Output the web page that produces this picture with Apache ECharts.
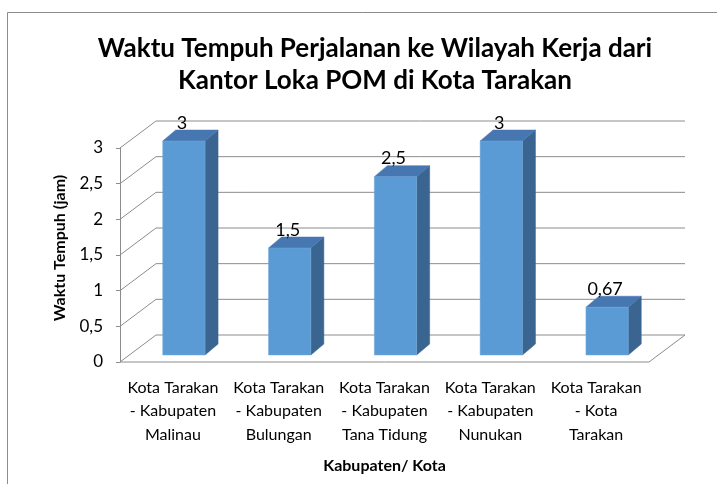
<!DOCTYPE html>
<html>
<head>
<meta charset="utf-8">
<script src="https://cdn.jsdelivr.net/npm/echarts@6/dist/echarts.min.js"></script>
<style>
  html, body { margin: 0; padding: 0; background: #fff; }
  #chart { width: 717px; height: 484px; }
</style>
</head>
<body>
<div id="chart"></div>
<script>
// data
const categories = [
  "Kota Tarakan\n- Kabupaten\nMalinau",
  "Kota Tarakan\n- Kabupaten\nBulungan",
  "Kota Tarakan\n- Kabupaten\nTana Tidung",
  "Kota Tarakan\n- Kabupaten\nNunukan",
  "Kota Tarakan\n- Kota\nTarakan"
];
const waktuTempuh = [3, 1.5, 2.5, 3, 0.67];
const yTicks = [0, 0.5, 1, 1.5, 2, 2.5, 3];

// 3D look (pixels)
const DEPTH_X = 36, DEPTH_Y = -27;   // floor / wall depth
const SHIFT_X = 11, SHIFT_Y = -7;    // bar front face pushed back
const BAR_X = 13, BAR_Y = -11;       // bar depth
const GRID_COLOR = "#8c8c8c";
const FONT = "Lato";

const fmt = (v) => String(v).replace(".", ",");

const chart = echarts.init(document.getElementById("chart"));

const options = {
  backgroundColor: "#fff",
  animation: false,
  textStyle: { fontFamily: FONT },
  title: {
    text: "Waktu Tempuh Perjalanan ke Wilayah Kerja dari\nKantor Loka POM di Kota Tarakan",
    left: 370,
    textAlign: "center",
    top: 28,
    textStyle: {
      fontFamily: FONT,
      fontSize: 26,
      fontWeight: "bold",
      color: "#000",
      lineHeight: 32
    }
  },
  graphic: [
    {
      type: "rect",
      shape: { x: 7.5, y: 12.5, width: 760, height: 520 },
      style: { fill: "none", stroke: "#8c8c8c", lineWidth: 1 },
      silent: true
    }
  ],
  grid: {
    left: 120,
    right: 68,
    top: 148,
    bottom: 122
  },
  xAxis: {
    type: "category",
    data: categories,
    axisLine: { show: false },
    axisTick: { show: false },
    axisLabel: {
      interval: 0,
      margin: 14,
      color: "#000",
      fontSize: 16,
      lineHeight: 23.5
    },
    name: "Kabupaten/ Kota",
    nameLocation: "middle",
    nameGap: 96,
    nameTextStyle: { fontSize: 16, fontWeight: "bold", color: "#000" }
  },
  yAxis: {
    type: "value",
    min: 0,
    max: 3,
    interval: 0.5,
    axisLine: { show: true, lineStyle: { color: GRID_COLOR, width: 1 } },
    axisTick: { show: true, length: 4, lineStyle: { color: GRID_COLOR } },
    splitLine: { show: false },
    axisLabel: {
      margin: 17,
      color: "#000",
      fontSize: 17,
      formatter: (v) => fmt(v)
    },
    name: "Waktu Tempuh (jam)",
    nameLocation: "middle",
    nameGap: 52,
    nameTextStyle: { fontSize: 16, fontWeight: "bold", color: "#000", padding: [0, 0, 0, 14] }
  },
  series: [
    {
      // back wall, side wall and floor
      type: "custom",
      silent: true,
      z: 1,
      data: yTicks.map((v) => [0, v]),
      renderItem: (params, api) => {
        const cs = params.coordSys;
        const x0 = cs.x, x1 = cs.x + cs.width;
        const y = api.coord([0, api.value(1)])[1];
        if (api.value(1) !== 0) {
          return {
            type: "polyline",
            shape: {
              points: [
                [x0, y],
                [x0 + DEPTH_X, y + DEPTH_Y],
                [x1 + DEPTH_X, y + DEPTH_Y]
              ]
            },
            style: { stroke: GRID_COLOR, lineWidth: 1, fill: null }
          };
        }
        return {
          type: "polygon",
          shape: {
            points: [
              [x0, y],
              [x1, y],
              [x1 + DEPTH_X, y + DEPTH_Y],
              [x0 + DEPTH_X, y + DEPTH_Y]
            ]
          },
          style: { stroke: GRID_COLOR, lineWidth: 1, fill: "#fff" }
        };
      }
    },
    {
      type: "custom",
      z: 2,
      data: waktuTempuh.map((v, i) => [i, v]),
      renderItem: (params, api) => {
        const i = api.value(0);
        const v = api.value(1);
        const base = api.coord([i, 0]);
        const top = api.coord([i, v]);
        const w = api.size([1, 0])[0] * 0.4;
        const l = base[0] - w / 2 + SHIFT_X;
        const r = base[0] + w / 2 + SHIFT_X;
        const t = top[1] + SHIFT_Y;
        const b = base[1] + SHIFT_Y;
        return {
          type: "group",
          children: [
            {
              type: "polygon",
              shape: { points: [[r, t], [r + BAR_X, t + BAR_Y], [r + BAR_X, b + BAR_Y], [r, b]] },
              style: { fill: "#3a6590", stroke: "#3a6590", lineWidth: 0.5 }
            },
            {
              type: "polygon",
              shape: { points: [[l, t], [l + BAR_X, t + BAR_Y], [r + BAR_X, t + BAR_Y], [r, t]] },
              style: { fill: "#4677b0", stroke: "#4677b0", lineWidth: 0.5 }
            },
            {
              type: "rect",
              shape: { x: l, y: t, width: r - l, height: b - t },
              style: { fill: "#5b9bd5", stroke: "#6fa8dc", lineWidth: 0.5 }
            },
            {
              type: "text",
              style: {
                text: fmt(v),
                x: base[0] + 9,
                y: t - 18,
                align: "center",
                verticalAlign: "middle",
                font: "18px " + FONT,
                fill: "#000"
              }
            }
          ]
        };
      }
    }
  ]
};

chart.setOption(options);
</script>
</body>
</html>
